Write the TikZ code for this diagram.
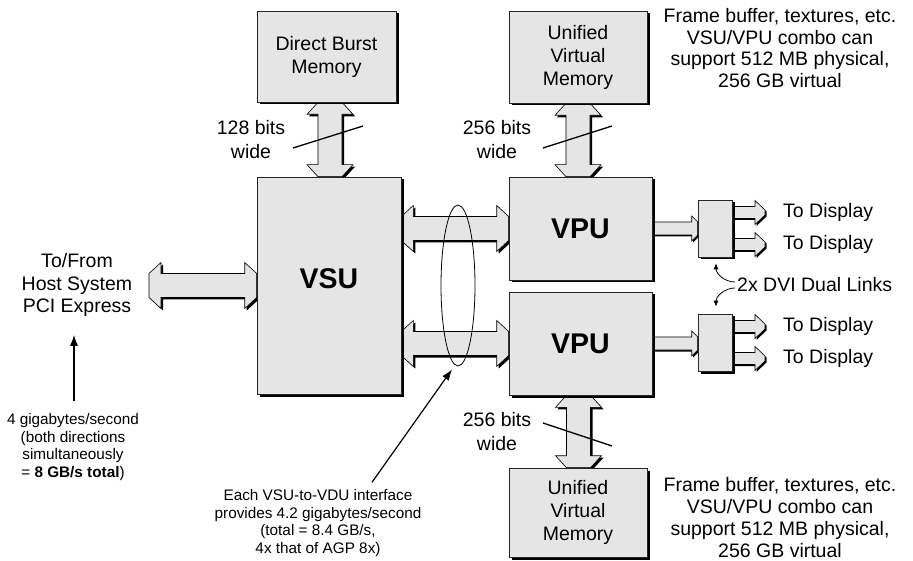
\documentclass[tikz,border=0pt]{standalone}
\usepackage{fontspec}
\setmainfont{Liberation Sans}
\usetikzlibrary{calc,shapes.geometric,arrows.meta}
\definecolor{boxgray}{gray}{0.9}
\pgfdeclarelayer{bg}
\pgfsetlayers{bg,main}
% fat double arrow, vertical (first point upper)
\newcommand\fatVshape[2]{let \p1=(#1),\p2=(#2) in (\x1-12pt,\y1) -- (\x1-23pt,\y1-12pt) -- (\x1-12pt,\y1-12pt) -- (\x1-12pt,\y2+12pt) -- (\x1-23pt,\y2+12pt) -- (\x1-12pt,\y2) -- (\x1+12pt,\y2) -- (\x1+23pt,\y2+12pt) -- (\x1+12pt,\y2+12pt) -- (\x1+12pt,\y1-12pt) -- (\x1+23pt,\y1-12pt) -- (\x1+12pt,\y1) -- cycle}
% fat double arrow, horizontal (first point left)
\newcommand\fatHshape[2]{let \p1=(#1),\p2=(#2) in (\x1,\y1+12pt) -- (\x1+12pt,\y1+23pt) -- (\x1+12pt,\y1+12pt) -- (\x2-12pt,\y1+12pt) -- (\x2-12pt,\y1+23pt) -- (\x2,\y1+12pt) -- (\x2,\y1-12pt) -- (\x2-12pt,\y1-23pt) -- (\x2-12pt,\y1-12pt) -- (\x1+12pt,\y1-12pt) -- (\x1+12pt,\y1-23pt) -- (\x1,\y1-12pt) -- cycle}
% slim single arrow: start, end, shaft half, head half, head length, tip half
\newcommand\slimshape[6]{let \p1=(#1),\p2=(#2) in (\x1,\y1+#3) -- (\x2-#5,\y1+#3) -- (\x2-#5,\y1+#4) -- (\x2,\y1+#6) -- (\x2,\y1-#6) -- (\x2-#5,\y1-#4) -- (\x2-#5,\y1-#3) -- (\x1,\y1-#3) -- cycle}
\newcommand\fatV[2]{\path[fatshadow] \fatVshape{#1}{#2}; \path[fatbody] \fatVshape{#1}{#2};}
\newcommand\fatH[2]{\path[fatshadow] \fatHshape{#1}{#2}; \path[fatbody] \fatHshape{#1}{#2};}
\newcommand\slimA[6]{\path[slimshadow] \slimshape{#1}{#2}{#3}{#4}{#5}{#6}; \path[fatbody] \slimshape{#1}{#2}{#3}{#4}{#5}{#6};}
\begin{document}
\begin{tikzpicture}[x=1pt,y=-1pt,
  box/.style={draw=black!85, line width=0.6pt, fill=boxgray, inner sep=0pt, align=center,
    font=\fontsize{19.5}{23}\selectfont,
    preaction={fill=black, transform canvas={shift={(2.5pt,-2.5pt)}}}},
  bigbox/.style={box, font=\fontsize{28.5}{30}\selectfont\bfseries},
  txt/.style={inner sep=0pt, align=center, font=\fontsize{19.5}{22.5}\selectfont},
  fbtxt/.style={inner sep=0pt, align=center, font=\fontsize{19.5}{21.8}\selectfont},
  widetxt/.style={inner sep=0pt, align=center, font=\fontsize{19.5}{24}\selectfont},
  small/.style={inner sep=0pt, align=center, font=\fontsize{15.3}{17.6}\selectfont},
  fatshadow/.style={fill=black, transform canvas={shift={(2pt,-2pt)}}},
  slimshadow/.style={fill=black, transform canvas={shift={(1.5pt,-1.5pt)}}},
  fatbody/.style={fill=boxgray, draw=black, line width=0.6pt},
  slash/.style={line width=1.3pt},
  pointer/.style={line width=1.2pt, -{Latex[length=11pt,width=8pt]}},
  dviptr/.style={line width=0.8pt, -{Latex[length=6pt,width=5pt]}}
]
\useasboundingbox (0,0) rectangle (913,561);

% boxes
\node[box, minimum width=139, minimum height=91] (dbm) at (326.5,56.5) {Direct Burst\\Memory};
\node[box, minimum width=138, minimum height=92] (uvm1) at (578,57) {Unified\\Virtual\\Memory};
\node[bigbox, minimum width=144, minimum height=217] (vsu) at (329,285.5) {\raisebox{-2.7pt}[0pt][0pt]{VSU}};
\node[bigbox, minimum width=143, minimum height=103] (vpu1) at (580.5,228.5) {VPU};
\node[bigbox, minimum width=143, minimum height=103] (vpu2) at (580.5,343.5) {VPU};
\node[box, minimum width=138, minimum height=89] (uvm2) at (578,512.5) {Unified\\Virtual\\Memory};
\node[box, minimum width=34, minimum height=57] (dvi1) at (715,228.5) {};
\node[box, minimum width=34, minimum height=57] (dvi2) at (715,342.5) {};

% texts
\node[widetxt] (w128) at (251,139.5) {128 bits\\wide};
\node[widetxt] (w256a) at (497,139.5) {256 bits\\wide};
\node[widetxt] (w256b) at (497,431.5) {256 bits\\wide};
\node[txt] (host) at (77,285) {To/From\\Host System\\PCI Express};
\node[small] (hostnote) at (73,447) {4 gigabytes/second\\(both directions\\simultaneously\\= \textbf{8 GB/s total})};
\node[small] (iface) at (318,523) {Each VSU-to-VDU interface\\provides 4.2 gigabytes/second\\(total = 8.4 GB/s,\\4x that of AGP 8x)};
\node[fbtxt] (fb1) at (780,48) {Frame buffer, textures, etc.\\VSU/VPU combo can\\support 512 MB physical,\\256 GB virtual};
\node[fbtxt] (fb2) at (780,517.5) {Frame buffer, textures, etc.\\VSU/VPU combo can\\support 512 MB physical,\\256 GB virtual};
\node[txt, anchor=west] (d1) at (783,212.5) {To Display};
\node[txt, anchor=west] (d2) at (783,244.5) {To Display};
\node[txt, anchor=west] (d3) at (783,326.5) {To Display};
\node[txt, anchor=west] (d4) at (783,358.5) {To Display};
\node[txt, anchor=west] (dvitxt) at (737,285) {2x DVI Dual Links};
\node[draw, ellipse, line width=0.8pt, minimum width=34, minimum height=161, inner sep=0pt] (ell) at (458,285.5) {};
\coordinate (hostend) at (149,285.5);

% fat arrows (background)
\begin{pgfonlayer}{bg}
\fatV{$(dbm.south)+(3.5,0)$}{vsu.north}
\fatV{uvm1.south}{vpu1.north}
\fatV{$(vpu2.south)+(-2,0)$}{uvm2.north}
\fatH{vsu.east |- vpu1.west}{vpu1.west}
\fatH{vsu.east |- vpu2.west}{vpu2.west}
\fatH{hostend}{vsu.west}
\slimA{vpu1.east}{dvi1.west}{6.5pt}{12.5pt}{6pt}{6.5pt}
\slimA{vpu2.east}{dvi2.west}{6.5pt}{12.5pt}{6pt}{6.5pt}
\slimA{$(dvi1.east)+(0,-16)$}{$(d1.west)+(-18,0)$}{6pt}{12pt}{10pt}{2.5pt}
\slimA{$(dvi1.east)+(0,16)$}{$(d2.west)+(-18,0)$}{6pt}{12pt}{10pt}{2.5pt}
\slimA{$(dvi2.east)+(0,-16)$}{$(d3.west)+(-18,0)$}{6pt}{12pt}{10pt}{2.5pt}
\slimA{$(dvi2.east)+(0,16)$}{$(d4.west)+(-18,0)$}{6pt}{12pt}{10pt}{2.5pt}
\end{pgfonlayer}

% width slashes
\draw[slash] (293,148) -- (363,126);
\draw[slash] (543,148) -- (612,126);
\draw[slash] (543,423) -- (612,446);

% pointers
\draw[pointer] ($(hostnote.north)+(1,-12)$) -- ($(host.south)+(-3,18)$);
\draw[pointer] ($(iface.north)+(54,-7)$) -- ($(ell.south)+(-6,3)$);
\draw[dviptr] ($(dvitxt.west)+(-2,-3)$) to[out=180,in=-90] ($(dvi1.south)+(1,6)$);
\draw[dviptr] ($(dvitxt.west)+(-2,3)$) to[out=180,in=90] ($(dvi2.north)+(1,-7)$);
\end{tikzpicture}
\end{document}
